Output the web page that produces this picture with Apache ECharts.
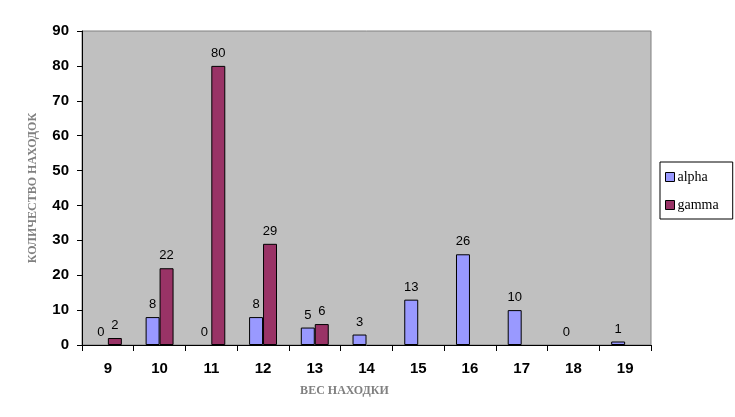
<!DOCTYPE html>
<html><head><meta charset="utf-8">
<script src="https://cdn.jsdelivr.net/npm/echarts@6/dist/echarts.min.js"></script>
<style>html,body{margin:0;padding:0;background:#fff}#c{width:735px;height:417px}</style>
</head><body><div id="c"></div>
<script>
const categories = ['9','10','11','12','13','14','15','16','17','18','19'];
const alpha = [0, 8, 0, 8, 5, 3, 13, 26, 10, 0, 1];
const gamma = [2, 22, 80, 29, 6, null, null, null, null, null, null];
const yTicks = {min: 0, max: 90, interval: 10};

const chart = echarts.init(document.getElementById('c'), null, {renderer: 'canvas'});
const lbl = {show: true, position: 'top', distance: 6, color: '#000', fontFamily: 'Arial', fontSize: 13};
function toData(arr) {
  return arr.map(v => v === 0 ? {value: v, itemStyle: {borderWidth: 0, color: 'rgba(0,0,0,0)'}} : v);
}
chart.setOption({
  animation: false,
  backgroundColor: '#fff',
  grid: {left: 82, right: 84, top: 31, bottom: 72, show: true, backgroundColor: '#C0C0C0', borderColor: '#808080', borderWidth: 1},
  legend: {
    orient: 'vertical', left: 660, top: 162, width: 72,
    backgroundColor: '#fff', borderColor: '#000', borderWidth: 1, padding: [8, 14, 7, 5],
    itemWidth: 9, itemHeight: 9, itemGap: 14, icon: 'rect',
    textStyle: {fontFamily: 'Times New Roman, Liberation Serif, serif', fontSize: 14, color: '#000', padding: [0, 0, 0, -2]},
    itemStyle: {borderColor: '#000', borderWidth: 1},
    data: ['alpha', 'gamma']
  },
  xAxis: {
    type: 'category', data: categories,
    name: 'ВЕС НАХОДКИ', nameLocation: 'middle', nameGap: 40,
    nameTextStyle: {fontFamily: 'Liberation Serif, Times New Roman, serif', fontWeight: 'bold', fontSize: 12, color: '#808080', padding: [0, 44, 0, 0]},
    axisLine: {lineStyle: {color: '#000', width: 1}},
    axisTick: {show: true, length: 6, lineStyle: {color: '#000'}},
    axisLabel: {fontFamily: 'Arial, Liberation Sans', fontWeight: 'bold', fontSize: 15, color: '#000', margin: 16},
    splitLine: {show: false}
  },
  yAxis: {
    type: 'value', min: yTicks.min, max: yTicks.max, interval: yTicks.interval,
    name: 'КОЛИЧЕСТВО НАХОДОК', nameLocation: 'middle', nameGap: 43, nameRotate: 90,
    nameTextStyle: {fontFamily: 'Liberation Serif, Times New Roman, serif', fontWeight: 'bold', fontSize: 12, color: '#808080'},
    axisLine: {show: true, lineStyle: {color: '#000', width: 1}},
    axisTick: {show: true, inside: false, length: 5, lineStyle: {color: '#000'}},
    axisLabel: {fontFamily: 'Arial, Liberation Sans', fontWeight: 'bold', fontSize: 15, color: '#000', margin: 13},
    splitLine: {show: false}
  },
  series: [
    {name: 'alpha', type: 'bar', data: toData(alpha), barGap: '0%', barCategoryGap: '46%',
     itemStyle: {color: '#9999FF', borderColor: '#000', borderWidth: 1}, label: lbl},
    {name: 'gamma', type: 'bar', data: toData(gamma), barGap: '0%', barCategoryGap: '46%',
     itemStyle: {color: '#993366', borderColor: '#000', borderWidth: 1}, label: lbl}
  ]
});
</script></body></html>
